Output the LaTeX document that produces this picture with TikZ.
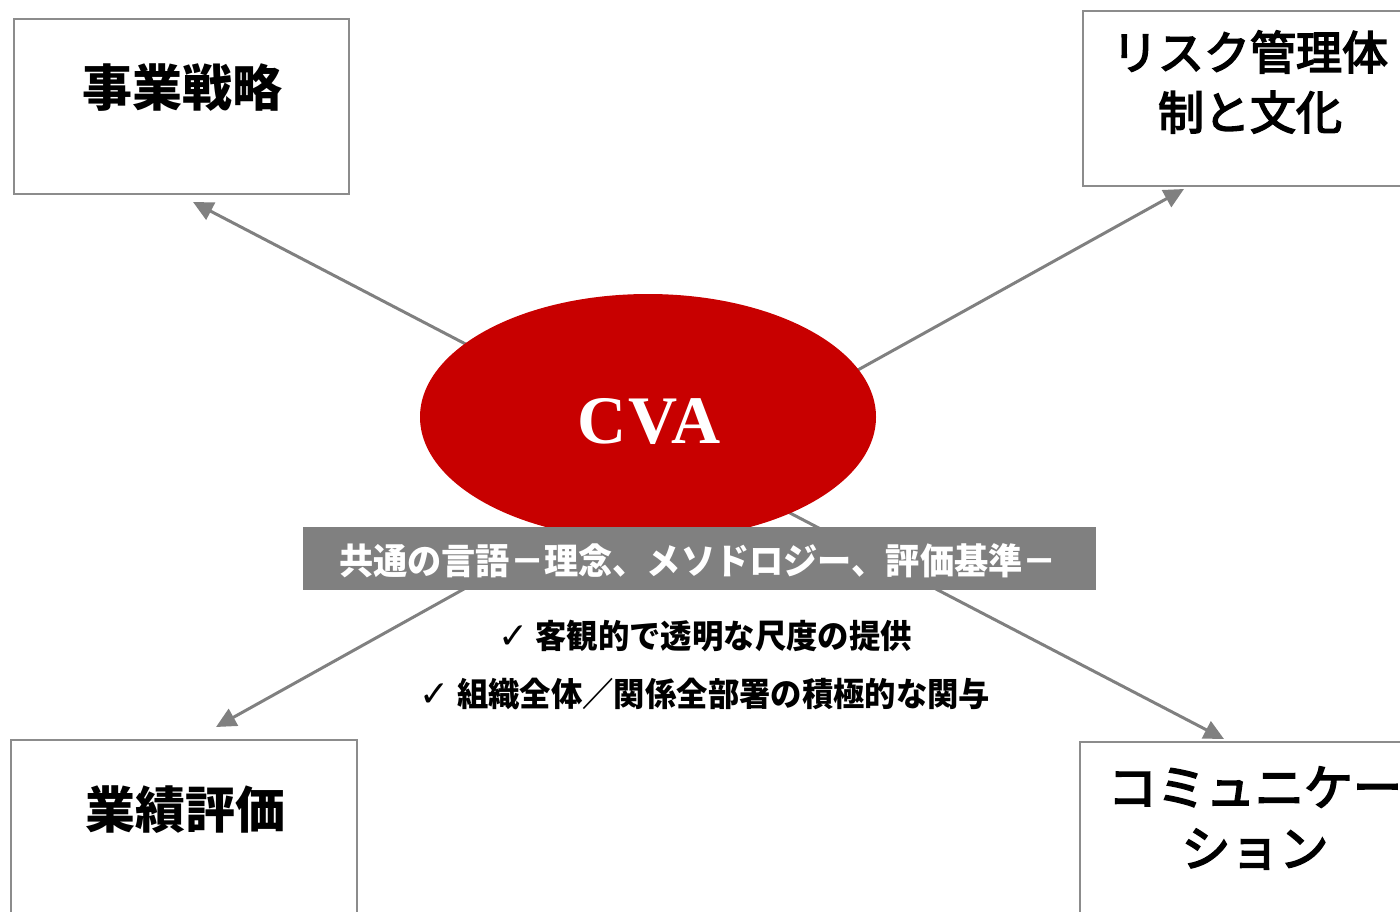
\documentclass[tikz,border=0pt]{standalone}
\usepackage{fontspec}
\usetikzlibrary{arrows.meta,shapes.geometric}
\newfontfamily\jp{Noto Sans CJK JP}
\newfontfamily\jpm{Noto Sans CJK JP}[FakeBold=3.5]
\newfontfamily\jpc{Noto Sans CJK JP}[FakeStretch=0.95]
\newfontfamily\cvafont{Liberation Serif}[LetterSpace=3]
\newfontfamily\sym{DejaVu Sans}
\definecolor{cvared}{RGB}{200,0,0}
\definecolor{linegray}{RGB}{128,128,128}
\definecolor{boxgray}{RGB}{140,140,140}
\tikzset{
  box/.style={draw=boxgray, line width=2.5pt, fill=white, rectangle, inner sep=0pt},
  conn/.style={draw=linegray, line width=3pt, -{Triangle[length=20pt,width=19pt]}},
  boxtext/.style={align=center, inner sep=0pt, text=black},
  checktext/.style={inner sep=0pt, text=black, font=\jpc\bfseries\fontsize{33}{36}\selectfont},
}
\begin{document}
\begin{tikzpicture}[x=1pt,y=-1pt]
\useasboundingbox (0,0) rectangle (1400,912);
\clip (0,0) rectangle (1400,912);

% boxes
\node[box, minimum width=335pt, minimum height=175pt] (strat) at (181.5,106.5) {};
\node[box, minimum width=335pt, minimum height=175pt] (risk) at (1250.5,98.5) {};
\node[box, minimum width=346pt, minimum height=185pt] (perf) at (184,832.5) {};
\node[box, minimum width=350pt, minimum height=183pt] (comm) at (1255,833.5) {};

\node[boxtext, font=\jp\bfseries\fontsize{50}{60}\selectfont] (stratt) at (182,88) {事業戦略};
\node[boxtext, font=\jpm\fontsize{46}{60}\selectfont] (riskt) at (1250,82) {リスク管理体\\制と文化};
\node[boxtext, font=\jp\bfseries\fontsize{50}{60}\selectfont] (perft) at (185,810) {業績評価};
\node[boxtext, font=\jpm\fontsize{49}{61}\selectfont] (commt) at (1255,818) {コミュニケー\\ション};

% connectors
\coordinate (hub) at (692,462);
\coordinate (tipTL) at (193,202);
\coordinate (tipTR) at (1184,189);
\coordinate (tipBL) at (216,727);
\coordinate (tipBR) at (1224,739);
\draw[conn] (hub) -- (tipTL);
\draw[conn] (hub) -- (tipTR);
\draw[conn] (hub) -- (tipBL);
\draw[conn] (hub) -- (tipBR);

% centre ellipse
\node[ellipse, fill=cvared, minimum width=456pt, minimum height=246pt, inner sep=0pt] (cva) at (648,417) {};
\node[inner sep=0pt, text=white, font=\cvafont\bfseries\fontsize{68}{70}\selectfont] (cvat) at (649,422) {CVA};

% banner
\node[fill=linegray, minimum width=793pt, minimum height=63pt, inner sep=0pt] (banner) at (699.5,558.5) {};
\node[inner sep=0pt, text=white, font=\jpc\bfseries\fontsize{36}{40}\selectfont] (bannert) at (698,561) {共通の言語－理念、メソドロジー、評価基準－};

% check lines
\node[checktext] (check1) at (705,636) {{\sym\fontsize{36}{36}\selectfont ✓}\ 客観的で透明な尺度の提供};
\node[checktext] (check2) at (705,694) {{\sym\fontsize{36}{36}\selectfont ✓}\ 組織全体／関係全部署の積極的な関与};
\end{tikzpicture}
\end{document}
